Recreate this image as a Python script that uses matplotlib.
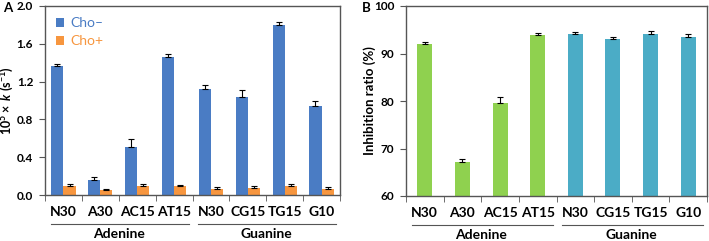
import matplotlib
matplotlib.use("Agg")
import matplotlib.pyplot as plt
import numpy as np

plt.rcParams['font.family'] = ['Lato', 'DejaVu Sans']
plt.rcParams['font.weight'] = 'bold'
plt.rcParams['mathtext.fontset'] = 'custom'
plt.rcParams['mathtext.rm'] = 'Lato:bold'
plt.rcParams['mathtext.it'] = 'Lato:bold:italic'
plt.rcParams['mathtext.bf'] = 'Lato:bold'

labels = ["N30", "A30", "AC15", "AT15", "N30", "CG15", "TG15", "G10"]
groups = ["Adenine", "Guanine"]

k_minus = [1.36, 0.16, 0.51, 1.46, 1.12, 1.04, 1.80, 0.94]
k_minus_err = [0.03, 0.03, 0.08, 0.03, 0.04, 0.07, 0.03, 0.05]
k_plus = [0.10, 0.05, 0.10, 0.09, 0.06, 0.07, 0.10, 0.06]
k_plus_err = [0.02, 0.015, 0.02, 0.02, 0.02, 0.02, 0.02, 0.02]

inhibition = [92.1, 67.1, 79.6, 93.8, 94.2, 93.0, 94.2, 93.4]
inhibition_err = [0.4, 0.6, 1.2, 0.6, 0.4, 0.5, 0.5, 0.7]

blue = '#4a7cc4'
orange = '#f7963f'
green = '#8fd14f'
teal = '#4bacc6'
spine_c = '#555555'

fig = plt.figure(figsize=(7.09, 2.41), dpi=100)
axA = fig.add_axes([45/709, 1-195/241, 295/709, 189/241])
axB = fig.add_axes([406/709, 1-196/241, 301/709, 190/241])

x = np.arange(len(labels))
w = 0.33

def style(ax):
    for s in ax.spines.values():
        s.set_color(spine_c)
        s.set_linewidth(1.0)
    ax.set_xlim(-0.5, len(labels) - 0.5)
    ax.set_xticks(x)
    ax.set_xticklabels(labels, fontsize=10, fontweight='bold')
    ax.tick_params(axis='x', length=0, pad=8)
    ax.set_xticks(np.arange(-0.5, len(labels), 1), minor=True)
    ax.tick_params(axis='x', which='minor', length=4, color=spine_c, direction='out')
    ax.tick_params(axis='y', length=4, color=spine_c, labelsize=8.5, direction='out', pad=4.5)
    for t in ax.get_yticklabels():
        t.set_fontweight('bold')
    # group underline + labels
    for gi, g in enumerate(groups):
        x0 = gi * 4 - 0.35
        x1 = gi * 4 + 3.4
        ax.plot([x0, x1], [-0.153, -0.153], color=spine_c, lw=0.8,
                transform=ax.get_xaxis_transform(), clip_on=False)
        ax.text(gi * 4 + 1.5, -0.175, g, transform=ax.get_xaxis_transform(),
                ha='center', va='top', fontsize=10, fontweight='bold')

err_kw = dict(ecolor='black', elinewidth=0.8, capsize=2, capthick=0.8)

axA.bar(x - w/2, k_minus, w, color=blue, label="Cho–",
        yerr=[np.zeros(8), k_minus_err], error_kw=err_kw)
axA.bar(x + w/2, k_plus, w, color=orange, label="Cho+",
        yerr=[np.zeros(8), k_plus_err], error_kw=err_kw)
axA.set_ylim(0, 2.0)
axA.set_yticks(np.arange(0, 2.01, 0.4))
axA.set_yticklabels(["%.1f" % v for v in np.arange(0, 2.01, 0.4)])
style(axA)
axA.set_ylabel(r'$\mathrm{10^5 \times}\ k\ \mathrm{(s^{-1})}$', fontsize=9)
axA.yaxis.set_label_coords(-0.098, 0.5)
leg = axA.legend(loc='upper left', frameon=False, fontsize=10, handlelength=0.6,
                 handleheight=0.6, handletextpad=0.4, borderaxespad=0.4,
                 labelspacing=0.45)
for t, c in zip(leg.get_texts(), [blue, orange]):
    t.set_color(c)
    t.set_fontweight('normal')

colsB = [green] * 4 + [teal] * 4
axB.bar(x, inhibition, 0.4, color=colsB,
        yerr=[np.zeros(8), inhibition_err], error_kw=err_kw)
axB.set_ylim(60, 100)
axB.set_yticks([60, 70, 80, 90, 100])
style(axB)
axB.set_ylabel('Inhibition ratio (%)', fontsize=9.5, fontweight='bold')
axB.yaxis.set_label_coords(-0.1, 0.5)

fig.text(3/709, 1-8/241, 'A', fontsize=9.5, fontweight='bold', va='center')
fig.text(362/709, 1-8/241, 'B', fontsize=9.5, fontweight='bold', va='center')

fig.savefig("out.png", dpi=100)
